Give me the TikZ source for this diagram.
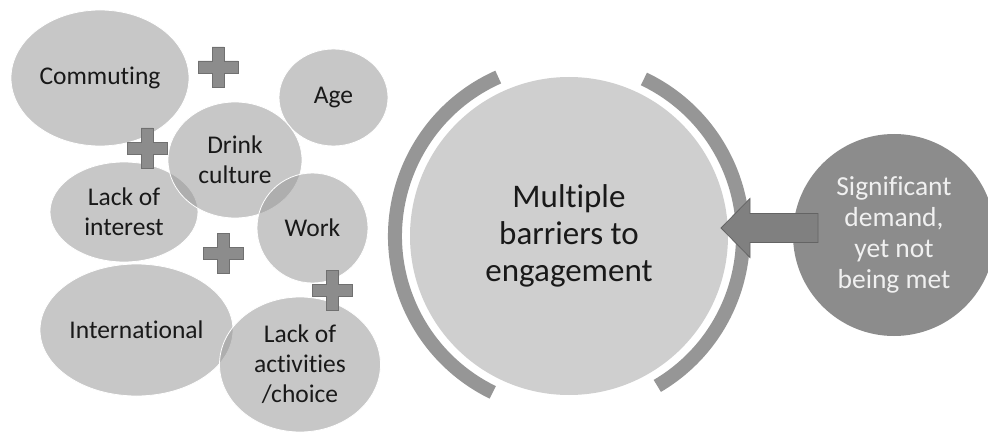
\documentclass[tikz,border=0pt]{standalone}
\usepackage{fontspec}
\setmainfont{Carlito}[Ligatures=NoCommon]
\usetikzlibrary{shapes.geometric}
\definecolor{bubblegray}{RGB}{153,153,153}
\definecolor{txtdark}{RGB}{25,25,25}
\definecolor{plusfill}{RGB}{140,140,140}
\definecolor{plusline}{RGB}{112,112,112}
\definecolor{bigfill}{RGB}{207,207,207}
\definecolor{arcgray}{RGB}{150,150,150}
\definecolor{demandfill}{RGB}{140,140,140}
\definecolor{demandtext}{RGB}{240,240,240}
\definecolor{arrowfill}{RGB}{128,128,128}
\definecolor{arrowline}{RGB}{100,100,100}
\tikzset{
  bub/.style={ellipse, inner sep=0pt, fill=bubblegray, fill opacity=0.54, text opacity=1,
    draw=white, draw opacity=1, line width=0.8pt, text=txtdark, align=center,
    font=\fontsize{25.5}{30}\selectfont},
  arcband/.style={draw=arcgray, line width=14pt},
  plussign/.pic={\filldraw[fill=plusfill, draw=plusline, line width=0.8pt]
    (-20,-6) -- (-6,-6) -- (-6,-20) -- (6,-20) -- (6,-6) -- (20,-6) -- (20,6) -- (6,6)
    -- (6,20) -- (-6,20) -- (-6,6) -- (-20,6) -- cycle;}
}
\begin{document}
\begin{tikzpicture}[x=1pt,y=1pt]
\useasboundingbox (0,0) rectangle (988,432);
\fill[white] (0,0) rectangle (988,432);

% left bubbles
\node[bub, minimum width=178, minimum height=136] (commuting) at (100,354) {Commuting};
\node[bub, minimum width=109, minimum height=97] (age) at (333.5,334.5) {Age};
\node[bub, minimum width=148, minimum height=100] (interest) at (124,220) {Lack of\\interest};
\node[bub, minimum width=134, minimum height=116] (drink) at (235,272) {Drink\\culture};
\node[bub, minimum width=111, minimum height=110] (work) at (312.5,204) {Work};
\node[bub, minimum width=193, minimum height=132] (international) at (136.5,102) {International};
\node[bub, minimum width=161, minimum height=135] (activities) at (300,67.5) {Lack of\\activities\\/choice};

% plus signs
\pic (plusA) at (218,365) {plussign};
\pic (plusB) at (147,284) {plussign};
\pic (plusC) at (223,179) {plussign};
\pic (plusD) at (332,142) {plussign};

% central circle
\node[circle, fill=bigfill, minimum size=318, inner sep=0pt, align=center, text=txtdark,
  font=\fontsize{33}{37}\selectfont] (mb) at (569,196) {Multiple\\barriers to\\engagement};
\draw[arcband] ([shift={(114:174)}]mb.center) arc[start angle=114, end angle=244, radius=174];
\draw[arcband] ([shift={(-59.5:174)}]mb.center) arc[start angle=-59.5, end angle=64.5, radius=174];

% demand circle
\node[circle, fill=demandfill, minimum size=202, inner sep=0pt, align=center, text=demandtext,
  font=\fontsize{27.5}{31}\selectfont] (demand) at (894,197) {Significant\\demand,\\yet not\\being met};

% block arrow
\coordinate (tip) at (721,204);
\filldraw[fill=arrowfill, draw=arrowline, line width=0.8pt]
  (tip) -- (750,233.5) -- (750,218.5) -- (818,218.5) -- (818,189.5) -- (750,189.5) -- (750,174.5) -- cycle;
\end{tikzpicture}
\end{document}
